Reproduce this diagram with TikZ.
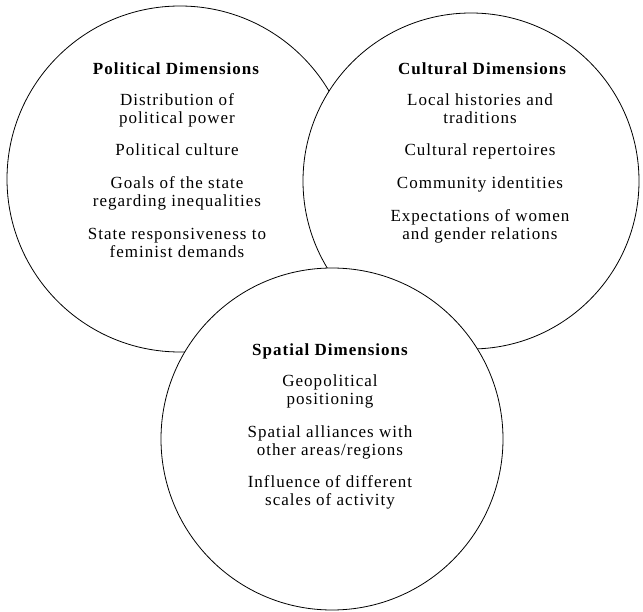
\documentclass[tikz,border=0pt]{standalone}
\usepackage{fontspec}
\setmainfont{Liberation Serif}[LetterSpace=6]
\begin{document}
\begin{tikzpicture}[x=1pt,y=-1pt,
  ring/.style={draw=black,line width=0.8pt,fill=white},
  ttl/.style={anchor=base,inner sep=0pt,font=\fontsize{17}{18}\selectfont\bfseries},
  txt/.style={anchor=base,inner sep=0pt,font=\fontsize{17}{18}\selectfont}]
\useasboundingbox (0,0) rectangle (643,612);
\clip (0,0) rectangle (643,612);
\coordinate (cl) at (180,179);
\coordinate (cr) at (471,181);
\coordinate (cb) at (332,439);
\draw[ring] (cl) circle[radius=173pt];
\draw[ring] (cr) circle[radius=168pt];
\draw[ring] (cb) circle[radius=171pt];
% Political
\node[ttl] (p0) at (176,75) {Political Dimensions};
\node[txt] (p1) at (177,106) {Distribution of};
\node[txt] (p2) at (177,124) {political power};
\node[txt] (p3) at (177,156) {Political culture};
\node[txt] (p4) at (177,189) {Goals of the state};
\node[txt] (p5) at (177,207) {regarding inequalities};
\node[txt] (p6) at (177,240) {State responsiveness to};
\node[txt] (p7) at (177,258) {feminist demands};
% Cultural
\node[ttl] (c0) at (482,75) {Cultural Dimensions};
\node[txt] (c1) at (480,106) {Local histories and};
\node[txt] (c2) at (480,124) {traditions};
\node[txt] (c3) at (480,156) {Cultural repertoires};
\node[txt] (c4) at (480,189) {Community identities};
\node[txt] (c5) at (480,222) {Expectations of women};
\node[txt] (c6) at (480,240) {and gender relations};
% Spatial
\node[ttl] (s0) at (330,356) {Spatial Dimensions};
\node[txt] (s1) at (330,387) {Geopolitical};
\node[txt] (s2) at (330,405) {positioning};
\node[txt] (s3) at (330,437) {Spatial alliances with};
\node[txt] (s4) at (330,455) {other areas/regions};
\node[txt] (s5) at (330,487) {Influence of different};
\node[txt] (s6) at (330,505) {scales of activity};
\end{tikzpicture}
\end{document}
